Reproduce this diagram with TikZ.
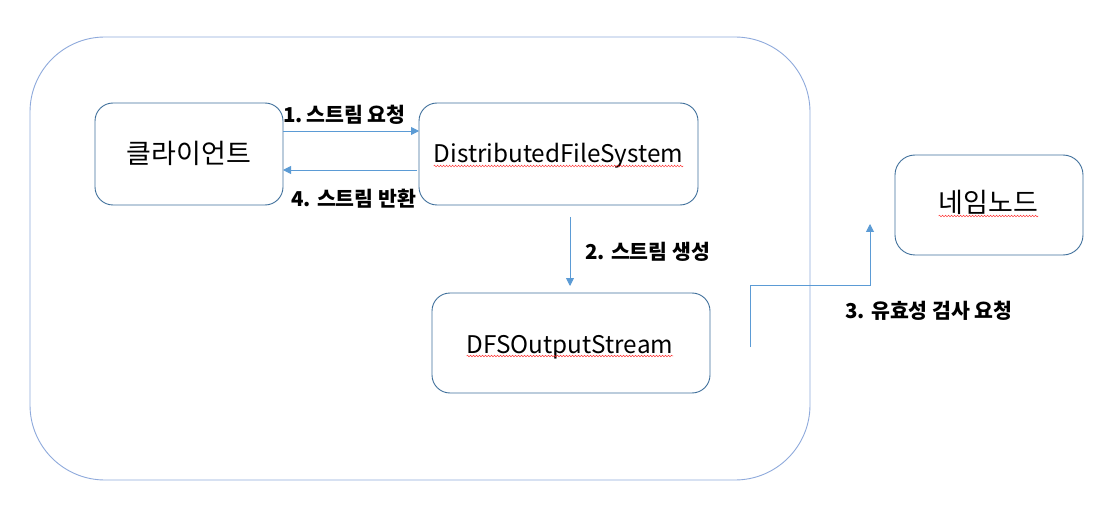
\documentclass[tikz,border=0pt]{standalone}
\usepackage{fontspec}
\setmainfont{Noto Sans CJK KR}
\usetikzlibrary{arrows.meta,decorations.pathmorphing}
\definecolor{outerc}{HTML}{8FAADC}
\definecolor{boxc}{HTML}{41719C}
\definecolor{arrc}{HTML}{5B9BD5}
\tikzset{
  x=1pt,y=-1pt,
  boxnode/.style={draw=boxc,line width=0.9pt,rounded corners=18pt,inner sep=0pt},
  boxtext/.style={font=\fontsize{24.3}{28}\selectfont,inner sep=0pt,anchor=base},
  krtext/.style={font=\fontsize{27}{30}\selectfont,inner sep=0pt,anchor=base},
  lbl/.style={font=\fontsize{20.5}{24}\selectfont\bfseries,inner sep=0pt,anchor=base},
  conn/.style={draw=arrc,line width=0.9pt,-{Triangle[width=8pt,length=8pt]}},
  squig/.style={draw=red!85,line width=0.4pt,decorate,decoration={snake,amplitude=0.9pt,segment length=3pt}}
}
\begin{document}
\begin{tikzpicture}
\useasboundingbox (0,0) rectangle (1114,505);
\fill[white] (0,0) rectangle (1114,505);
\node[draw=outerc,line width=0.9pt,rounded corners=75pt,minimum width=780pt,minimum height=443pt,inner sep=0pt] (outer) at (420,258.5) {};
\node[boxnode,minimum width=188pt,minimum height=102pt] (client) at (189,154) {};
\node[boxnode,minimum width=279pt,minimum height=102pt] (dfs) at (558.5,154) {};
\node[boxnode,minimum width=278pt,minimum height=100pt] (out) at (571,343) {};
\node[boxnode,minimum width=188pt,minimum height=100pt,rounded corners=20pt] (nn) at (989,205) {};
\node[krtext] (tclient) at (189,164) {클라이언트};
\node[boxtext] (tdfs) at (558.5,163) {DistributedFileSystem};
\node[boxtext] (tout) at (570,353) {DFSOutputStream};
\node[krtext] (tnn) at (988.5,213) {네임노드};
\draw[squig] ([yshift=-3pt]tdfs.base west) -- ([yshift=-3pt]tdfs.base east);
\draw[squig] ([yshift=-3pt]tout.base west) -- ([yshift=-3pt]tout.base east);
\draw[squig] ([yshift=-3pt]tnn.base west) -- ([yshift=-3pt]tnn.base east);
\coordinate (a1s) at (283,131);
\coordinate (a1e) at (419,131);
\draw[conn] (a1s) -- (a1e);
\coordinate (a4s) at (417,170);
\coordinate (a4e) at (283,170);
\draw[conn] (a4s) -- (a4e);
\coordinate (a2s) at (570,217);
\coordinate (a2e) at (570,286);
\draw[conn] (a2s) -- (a2e);
\coordinate (a3s) at (750,347);
\coordinate (a3e) at (870,224);
\draw[conn] (a3s) |- (750,285) -| (a3e);
\node[lbl,anchor=base west] (l1) at (283,123) {1.\,스트림 요청};
\node[lbl,anchor=base west] (l4) at (291,207) {4. 스트림 반환};
\node[lbl,anchor=base west] (l2) at (585,260) {2. 스트림 생성};
\node[lbl,anchor=base west] (l3) at (845,318) {3. 유효성 검사 요청};
\end{tikzpicture}
\end{document}
